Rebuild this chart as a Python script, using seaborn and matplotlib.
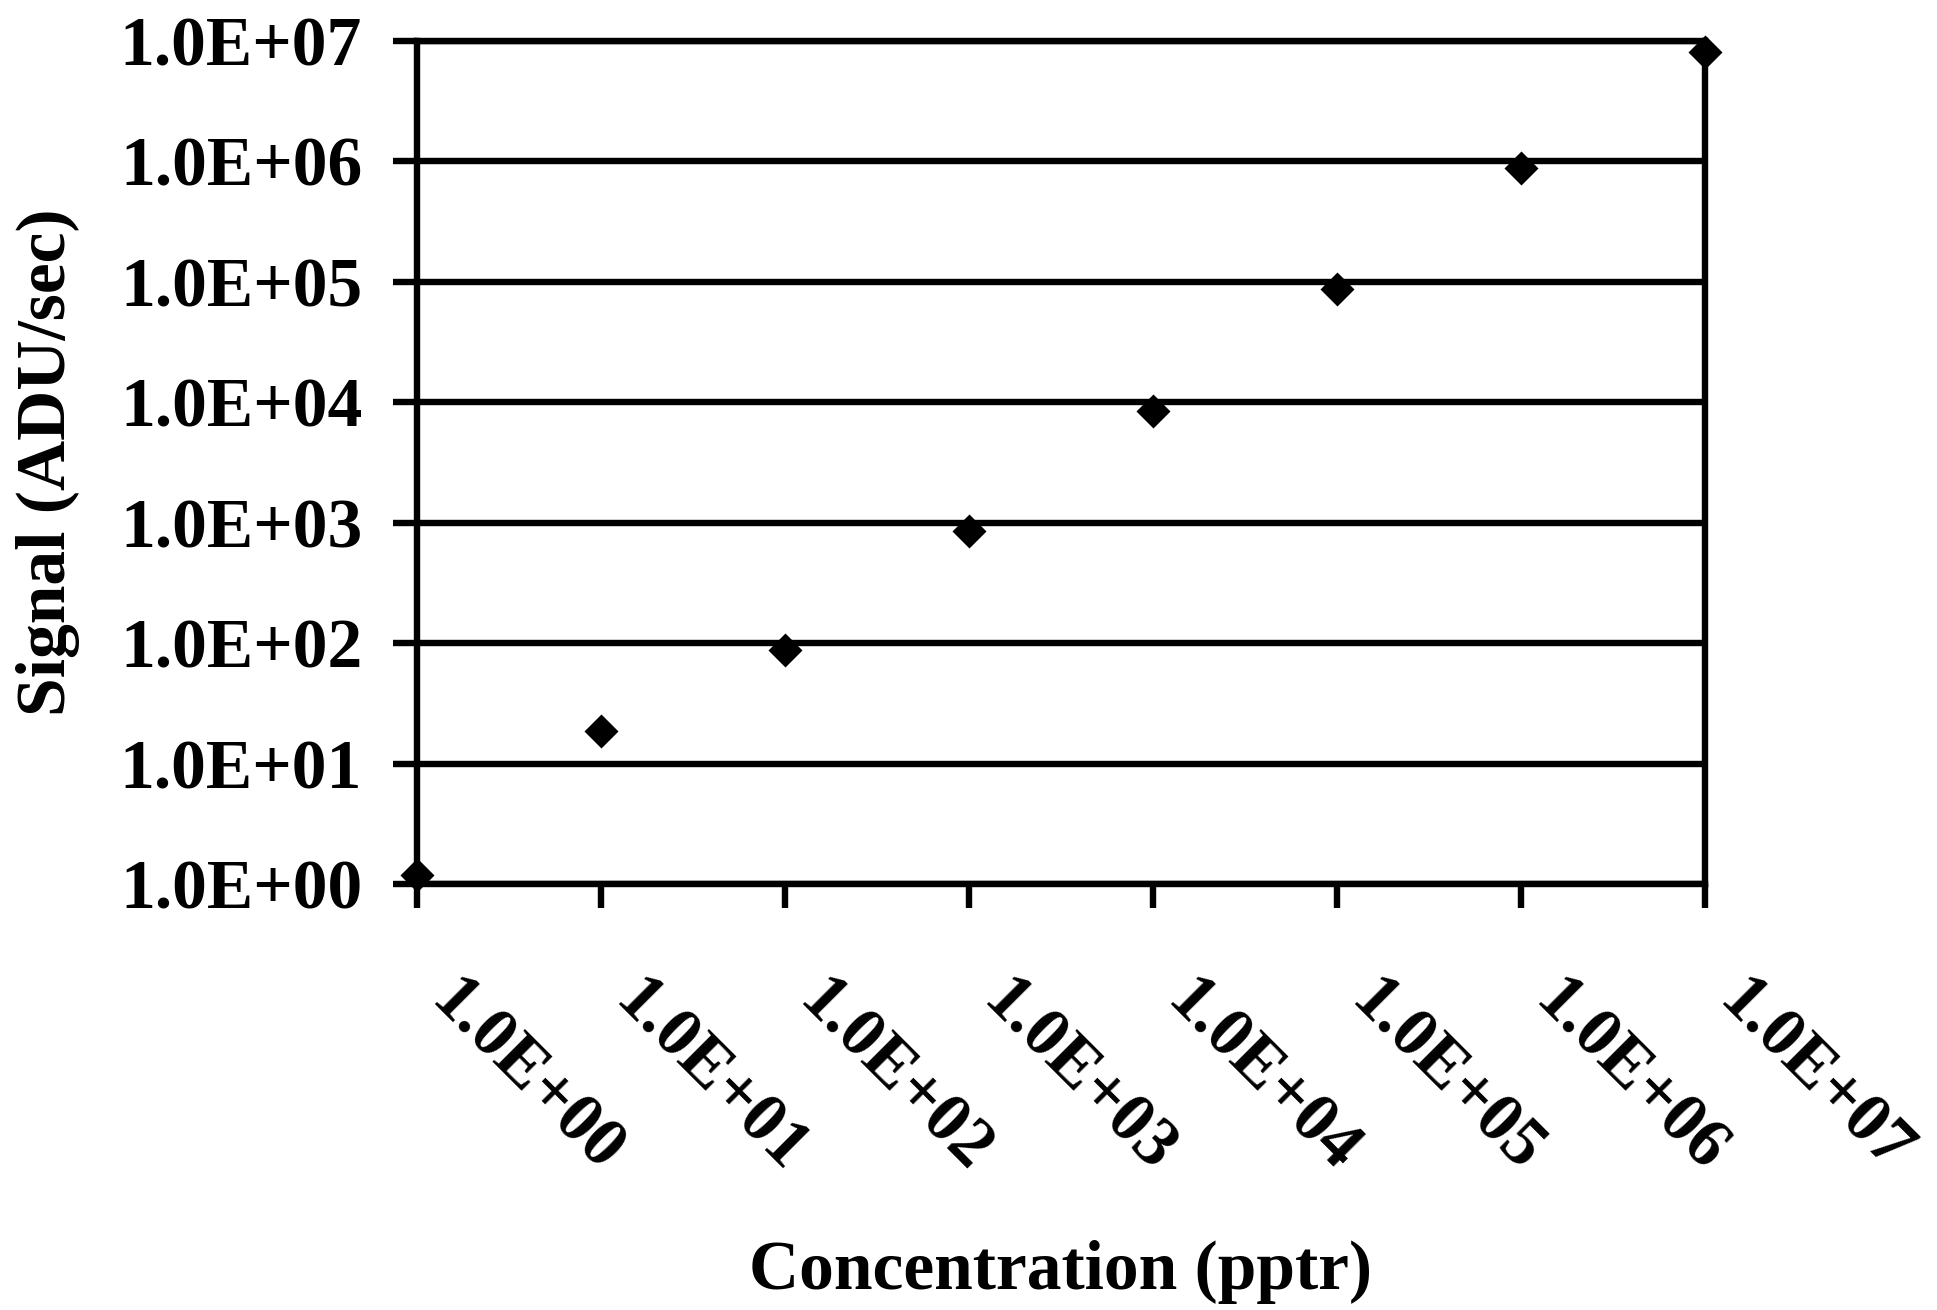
import numpy as np
import pandas as pd
import matplotlib
matplotlib.use("Agg")
import matplotlib.pyplot as plt
import matplotlib.ticker as mticker
import seaborn as sns

# Calibration data: concentration (pptr) vs. measured signal (ADU/sec)
concentration = [1e0, 1e1, 1e2, 1e3, 1e4, 1e5, 1e6, 1e7]
signal = [1.19, 18.8, 88.0, 853.0, 8420.0, 88000.0, 890000.0, 8.15e6]
tick_values = [1e0, 1e1, 1e2, 1e3, 1e4, 1e5, 1e6, 1e7]
tick_labels = ["1.0E+00", "1.0E+01", "1.0E+02", "1.0E+03",
               "1.0E+04", "1.0E+05", "1.0E+06", "1.0E+07"]

df = pd.DataFrame({"Concentration (pptr)": concentration,
                   "Signal (ADU/sec)": signal})

sns.set_style("white")
plt.rcParams["font.family"] = ["Liberation Serif", "DejaVu Serif"]
plt.rcParams["font.weight"] = "bold"
plt.rcParams["text.color"] = "black"
plt.rcParams["axes.labelcolor"] = "black"
plt.rcParams["xtick.color"] = "black"
plt.rcParams["ytick.color"] = "black"
plt.rcParams["xtick.labelcolor"] = "black"
plt.rcParams["ytick.labelcolor"] = "black"

fig = plt.figure(figsize=(19.37, 13.10), dpi=100)
ax = fig.add_axes([0.2153, 0.3252, 0.6649, 0.6435])

ax.set_xscale("log")
ax.set_yscale("log")
ax.set_xlim(1, 1e7)
ax.set_ylim(1, 1e7)

sns.scatterplot(data=df, x="Concentration (pptr)", y="Signal (ADU/sec)",
                marker="D", s=300, color="black", linewidth=0,
                ax=ax, zorder=5, clip_on=False, legend=False)

# horizontal gridlines at each decade
ax.yaxis.grid(True, which="major", color="black", linewidth=4.6)
ax.xaxis.grid(False)
ax.set_axisbelow(True)

for side in ["left", "right", "bottom", "top"]:
    ax.spines[side].set_visible(True)
    ax.spines[side].set_color("black")
    ax.spines[side].set_linewidth(4.6)

ax.xaxis.set_major_locator(mticker.FixedLocator(tick_values))
ax.yaxis.set_major_locator(mticker.FixedLocator(tick_values))
ax.xaxis.set_minor_locator(mticker.NullLocator())
ax.yaxis.set_minor_locator(mticker.NullLocator())
ax.set_xticklabels(tick_labels)
ax.set_yticklabels(tick_labels)

ax.tick_params(axis="both", which="major", direction="out", length=17.5,
               width=4.6, color="black", labelcolor="black", labelsize=50,
               bottom=True, left=True)
ax.tick_params(axis="y", pad=22)
ax.tick_params(axis="x", pad=76)

for lab in ax.get_xticklabels():
    lab.set_rotation(-45)
    lab.set_rotation_mode("anchor")
    lab.set_ha("left")
    lab.set_va("bottom")
    lab.set_fontweight("bold")
for lab in ax.get_yticklabels():
    lab.set_fontweight("bold")

ax.set_xlabel("Concentration (pptr)", fontsize=50, fontweight="bold",
              va="center", color="black")
ax.set_ylabel("Signal (ADU/sec)", fontsize=50, fontweight="bold",
              va="center", color="black")
ax.xaxis.set_label_coords(0.5, -0.460)
ax.yaxis.set_label_coords(-0.2866, 0.5)

fig.savefig("out.png", dpi=100, facecolor="white")
